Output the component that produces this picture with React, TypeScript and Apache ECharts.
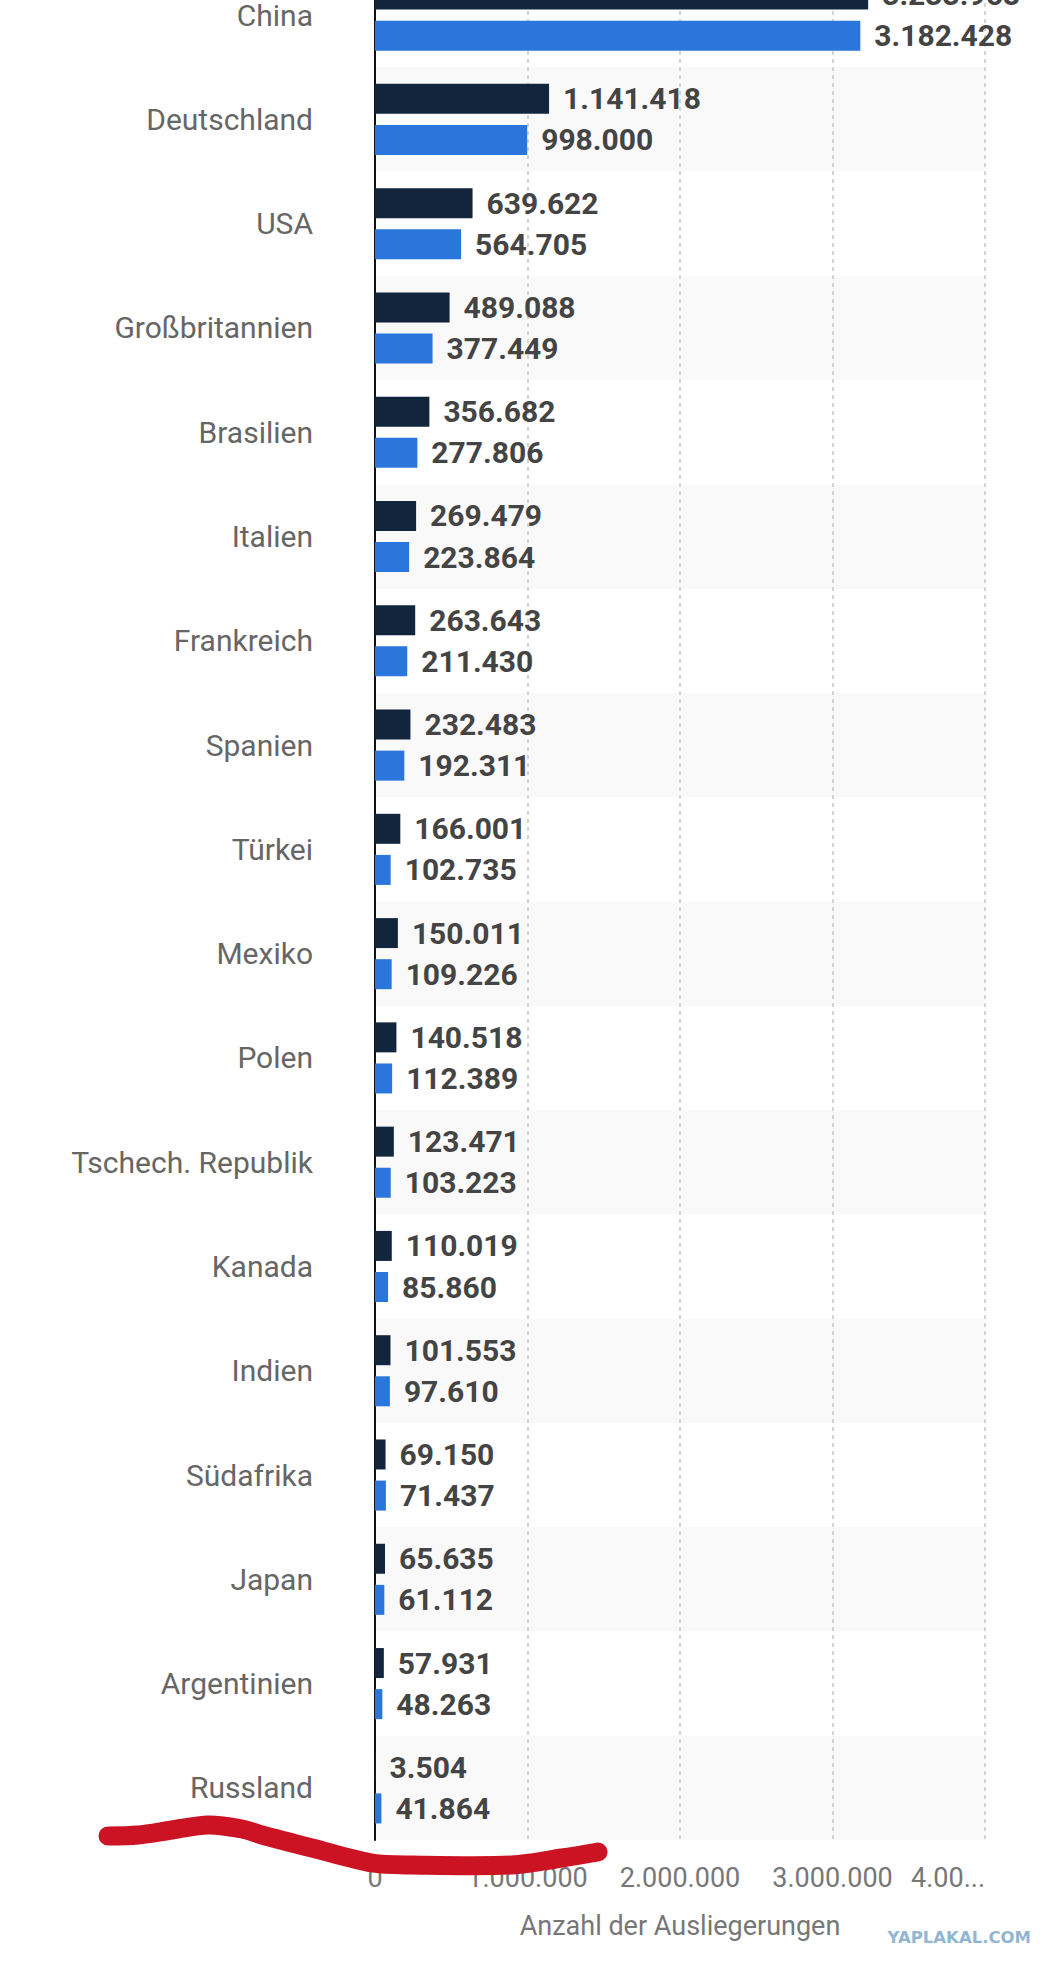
import React, { useRef, useEffect } from 'react'
import * as echarts from 'echarts'

// Länder (von oben nach unten)
const countries = [
  'China',
  'Deutschland',
  'USA',
  'Großbritannien',
  'Brasilien',
  'Italien',
  'Frankreich',
  'Spanien',
  'Türkei',
  'Mexiko',
  'Polen',
  'Tschech. Republik',
  'Kanada',
  'Indien',
  'Südafrika',
  'Japan',
  'Argentinien',
  'Russland',
]

// dunkle Balken (oben je Land)
const darkValues = [
  3233968, 1141418, 639622, 489088, 356682, 269479, 263643, 232483, 166001,
  150011, 140518, 123471, 110019, 101553, 69150, 65635, 57931, 3504,
]

// blaue Balken (unten je Land)
const blueValues = [
  3182428, 998000, 564705, 377449, 277806, 223864, 211430, 192311, 102735,
  109226, 112389, 103223, 85860, 97610, 71437, 61112, 48263, 41864,
]

const axisMax = 4000000
const axisStep = 1000000
const axisName = 'Anzahl der Ausliegerungen'

// die Seite ist oben abgeschnitten (gescrollt)
const SHIFT = 37

const fmt = (v: number) =>
  String(Math.round(v)).replace(/\B(?=(\d{3})+(?!\d))/g, '.')

const App: React.FC = () => {
  const chartRef = useRef<HTMLDivElement>(null)

  useEffect(() => {
    if (!chartRef.current) return
    const chart = echarts.init(chartRef.current, undefined, { renderer: 'svg' })

    const valueLabel = {
      show: true,
      position: 'right',
      distance: 14,
      fontFamily: 'Roboto',
      fontSize: 30,
      fontWeight: 'bold',
      color: '#444444',
      formatter: (p: any) => fmt(p.value),
    }

    const scribble = [
      [108, 1836],
      [138, 1835],
      [172, 1830],
      [208, 1825],
      [242, 1829],
      [262, 1835],
      [312, 1848],
      [372, 1863],
      [412, 1865],
      [512, 1865],
      [562, 1858],
      [598, 1852],
    ].map(([x, y]) => [x, y + SHIFT])

    const option = {
      animation: false,
      backgroundColor: '#ffffff',
      grid: { left: 375, right: 70, top: 0, height: 1877, containLabel: false },
      xAxis: {
        type: 'value',
        min: 0,
        max: axisMax,
        interval: axisStep,
        name: axisName,
        nameLocation: 'middle',
        nameGap: 72,
        nameTextStyle: { fontFamily: 'Roboto', fontSize: 27, color: '#777777' },
        axisLine: { show: false },
        axisTick: { show: false },
        axisLabel: {
          margin: 24,
          fontFamily: 'Roboto',
          fontSize: 27,
          color: '#777777',
          alignMaxLabel: 'right',
          formatter: (v: number) => (v === axisMax ? '4.00...' : fmt(v)),
        },
        splitLine: {
          show: true,
          lineStyle: { color: '#c8c8c8', width: 1.5, type: [4, 4] },
        },
      },
      yAxis: {
        type: 'category',
        data: countries,
        inverse: true,
        axisLine: { show: true, lineStyle: { color: '#111111', width: 2 } },
        axisTick: { show: false },
        axisLabel: {
          margin: 62,
          fontFamily: 'Roboto',
          fontSize: 30,
          color: '#666666',
        },
        splitLine: { show: false },
        splitArea: {
          show: true,
          areaStyle: { color: ['rgba(255,255,255,0)', '#f9f9f9'] },
        },
      },
      series: [
        {
          name: 'dunkel',
          type: 'bar',
          data: darkValues,
          barWidth: 30,
          barGap: '37%',
          itemStyle: { color: '#11263d' },
          label: valueLabel,
        },
        {
          name: 'blau',
          type: 'bar',
          data: blueValues,
          barWidth: 30,
          itemStyle: { color: '#2a76dc' },
          label: valueLabel,
        },
      ],
      graphic: [
        {
          type: 'text',
          right: 24,
          top: 1929 + SHIFT,
          style: {
            text: 'YAPLAKAL.COM',
            fontFamily: 'DejaVu Sans',
            fontSize: 16.5,
            fontWeight: 'bold',
            fill: '#92b6d2',
          },
        },
        {
          // rote Markierung von Hand
          type: 'polyline',
          z: 100,
          shape: { points: scribble, smooth: 0.3 },
          style: {
            stroke: '#cc1324',
            lineWidth: 19,
            lineCap: 'round',
            lineJoin: 'round',
            fill: 'none',
          },
        },
      ],
    }

    chart.setOption(option as any)

    return () => {
      chart.dispose()
    }
  }, [])

  return (
    <div
      ref={chartRef}
      style={{
        position: 'absolute',
        left: 0,
        top: -SHIFT,
        width: 1055,
        height: 1969 + SHIFT,
      }}
    />
  )
}

export default App
